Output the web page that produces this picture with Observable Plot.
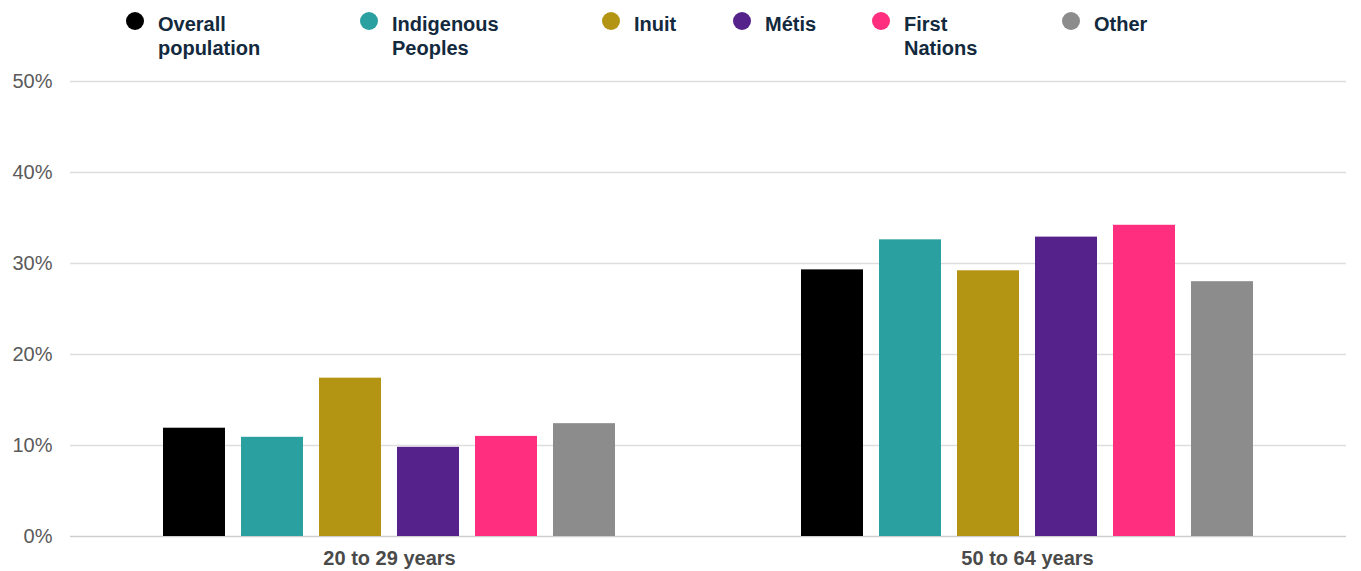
<!DOCTYPE html>
<html>
<head>
<meta charset="utf-8">
<script src="https://cdn.jsdelivr.net/npm/d3@7"></script>
<script src="https://cdn.jsdelivr.net/npm/@observablehq/plot@0.6"></script>
<style>
  body { margin:0; background:#fff; font-family:"Liberation Sans", Arial, sans-serif; }
  #legend { position:relative; width:1361px; height:65px; }
  .dot { position:absolute; width:18px; height:18px; border-radius:50%; }
  .lab { position:absolute; font-size:20px; font-weight:bold; color:#13293d; line-height:24px; white-space:nowrap; }
</style>
</head>
<body>
<div id="legend"></div>
<div id="chart"></div>
<script>
const groups = ["20 to 29 years", "50 to 64 years"];
const series = ["Overall population", "Indigenous Peoples", "Inuit", "Métis", "First Nations", "Other"];
const legendLabels = [["Overall", "population"], ["Indigenous", "Peoples"], ["Inuit"], ["Métis"], ["First", "Nations"], ["Other"]];
const values2029 = [11.9, 10.9, 17.4, 9.8, 11.0, 12.4];
const values5064 = [29.3, 32.6, 29.2, 32.9, 34.2, 28.0];
const yTicks = [0, 10, 20, 30, 40, 50];

const colors = ["#000000", "#2aa0a1", "#b39513", "#55218a", "#ff2e7e", "#8c8c8c"];
const legendX = [135, 369, 611, 742, 881, 1071];

const data = [];
series.forEach((s, i) => {
  data.push({group: groups[0], series: s, value: values2029[i]});
  data.push({group: groups[1], series: s, value: values5064[i]});
});

// legend
const leg = document.getElementById("legend");
series.forEach((s, i) => {
  const dot = document.createElement("div");
  dot.className = "dot";
  dot.style.left = (legendX[i] - 9) + "px";
  dot.style.top = "12px";
  dot.style.background = colors[i];
  leg.appendChild(dot);
  const lab = document.createElement("div");
  lab.className = "lab";
  lab.style.left = (legendX[i] + 23) + "px";
  lab.style.top = "12px";
  lab.innerHTML = legendLabels[i].join("<br>");
  leg.appendChild(lab);
});

const chart = Plot.plot({
  width: 1361,
  height: 506,
  marginLeft: 70,
  marginRight: 15,
  marginTop: 16,
  marginBottom: 35,
  style: {fontFamily: "Liberation Sans, Arial, sans-serif", background: "transparent"},
  fx: {domain: groups, padding: 0, label: null},
  x: {domain: series, paddingInner: 0.205, paddingOuter: 1.19, axis: null},
  y: {domain: [0, 50], label: null},
  color: {domain: series, range: colors},
  marks: [
    Plot.ruleY(yTicks.filter(d => d > 0), {stroke: "#dedede", strokeWidth: 1.3}),
    Plot.ruleY([0], {stroke: "#cfcfcf", strokeWidth: 1.5}),
    Plot.barY(data, {fx: "group", x: "series", y: "value", fill: "series"}),
    Plot.axisY({ticks: yTicks, tickFormat: d => d + "%", tickSize: 0, tickPadding: 18, fontSize: 20, fill: "#5a5a5a", label: null}),
    Plot.axisFx({anchor: "bottom", tickSize: 0, tickPadding: 14, fontSize: 20, fontWeight: "bold", fill: "#4a4a4a", label: null})
  ]
});
document.getElementById("chart").appendChild(chart);
</script>
</body>
</html>
